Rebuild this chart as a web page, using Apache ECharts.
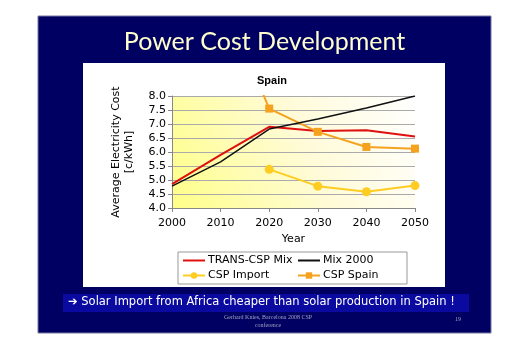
<!DOCTYPE html>
<html><head><meta charset="utf-8">
<script src="https://cdn.jsdelivr.net/npm/echarts@6/dist/echarts.min.js"></script>
<style>html,body{margin:0;padding:0;background:#fff}#c{width:529px;height:350px}</style>
</head><body><div id="c"></div>
<script>
const years = ['2000', '2010', '2020', '2030', '2040', '2050'];
const transCspMix = [4.85, 5.9, 6.9, 6.75, 6.78, 6.55];
const mix2000 = [4.78, 5.65, 6.82, 7.18, 7.57, 8.0];
const cspImport = [null, null, 5.38, 4.78, 4.58, 4.8];
const cspSpain = [null, 11.7, 7.55, 6.72, 6.18, 6.12];
const seriesNames = ['TRANS-CSP Mix', 'Mix 2000', 'CSP Import', 'CSP Spain'];

const chart = echarts.init(document.getElementById('c'), null, {renderer: 'canvas'});
const F = 'DejaVu Sans';
const lineIcon = 'path://M0,0H22V2H0Z';
chart.setOption({
  backgroundColor: '#ffffff',
  animation: false,
  title: {
    text: 'Spain', left: 267, top: 70, textAlign: 'center',
    textStyle: {fontFamily: 'Liberation Sans', fontWeight: 'bold', fontSize: 11, color: '#000'}
  },
  graphic: [
    {type: 'rect', z: -20, shape: {x: 38, y: 16, width: 453, height: 317}, style: {fill: '#000062', stroke: '#7777a0', lineWidth: 1}},
    {type: 'rect', z: -19, shape: {x: 83, y: 63, width: 362, height: 224}, style: {fill: '#ffffff'}},
    {type: 'rect', z: -19, shape: {x: 63, y: 294, width: 406, height: 18}, style: {fill: '#0a0aa0'}},
    {type: 'rect', z: -18, shape: {x: 178, y: 252, width: 229, height: 32}, style: {fill: '#ffffff', stroke: '#999999', lineWidth: 1}},
    {type: 'text', z: 5, left: 'center', top: 29, style: {text: 'Power Cost Development', fill: '#ffffcc', font: '25px Lato'}},
    {type: 'text', z: 5, left: 68, top: 296, style: {text: '\u2794 Solar Import from Africa cheaper than solar production in Spain !', fill: '#ffffff', font: '11.5px "DejaVu Sans"'}},
    {type: 'text', z: 5, x: 268, y: 313, style: {text: 'Gerhard Knies, Barcelona 2008 CSP\nconference', fill: '#a0a0c0', font: '6px "Liberation Serif"', align: 'center', lineHeight: 8}},
    {type: 'text', z: 5, x: 458, y: 316, style: {text: '19', fill: '#a0a0c0', font: '6px "Liberation Serif"', align: 'center'}}
  ],
  legend: [
    {data: [{name: seriesNames[0], icon: lineIcon}, seriesNames[2]], orient: 'vertical', left: 182, top: 255, itemGap: 4, itemWidth: 22, itemHeight: 8,
     textStyle: {fontFamily: F, fontSize: 11, color: '#000', padding: [0, 0, 0, -2]}, padding: 0},
    {data: [{name: seriesNames[1], icon: lineIcon}, seriesNames[3]], orient: 'vertical', left: 297, top: 255, itemGap: 4, itemWidth: 22, itemHeight: 8,
     textStyle: {fontFamily: F, fontSize: 11, color: '#000', padding: [0, 0, 0, -2]}, padding: 0}
  ],
  grid: {
    left: 172, right: 114, top: 96, bottom: 142, show: true, borderWidth: 0,
    backgroundColor: new echarts.graphic.LinearGradient(0, 1, 1, 0, [
      {offset: 0, color: '#ffff88'}, {offset: 0.55, color: '#fffbd8'}, {offset: 1, color: '#ffffff'}
    ])
  },
  xAxis: {
    type: 'category', data: years, boundaryGap: false,
    name: 'Year', nameLocation: 'middle', nameGap: 26,
    nameTextStyle: {fontFamily: F, fontSize: 11, color: '#000'},
    axisLine: {lineStyle: {color: '#888', width: 1}},
    axisTick: {show: true, length: 4, lineStyle: {color: '#888'}},
    axisLabel: {fontFamily: F, fontSize: 11, color: '#000', margin: 10},
    splitLine: {show: false}
  },
  yAxis: {
    type: 'value', min: 4, max: 8, interval: 0.5,
    name: 'Average Electricity Cost\n[c/kWh]', nameLocation: 'middle', nameRotate: 90, nameGap: 36,
    nameTextStyle: {fontFamily: F, fontSize: 11, color: '#000', lineHeight: 13, align: 'center'},
    axisLine: {show: true, lineStyle: {color: '#888', width: 1}},
    axisTick: {show: true, length: 4, lineStyle: {color: '#888'}},
    axisLabel: {fontFamily: F, fontSize: 11, color: '#000', margin: 6, formatter: v => v.toFixed(1)},
    splitLine: {show: true, lineStyle: {color: '#aaa', width: 1}}
  },
  series: [
    {name: seriesNames[0], type: 'line', data: transCspMix, symbol: 'none', clip: true,
     lineStyle: {color: '#e01010', width: 2}, itemStyle: {color: '#e01010'}, z: 3},
    {name: seriesNames[1], type: 'line', data: mix2000, symbol: 'none', clip: true,
     lineStyle: {color: '#111', width: 1.5}, itemStyle: {color: '#111'}, z: 4},
    {name: seriesNames[2], type: 'line', data: cspImport, symbol: 'circle', symbolSize: 9, clip: true,
     lineStyle: {color: '#ffcc22', width: 2}, itemStyle: {color: '#ffcc22'}, z: 3},
    {name: seriesNames[3], type: 'line', data: cspSpain, symbol: 'rect', symbolSize: 8, clip: true,
     lineStyle: {color: '#f5a21e', width: 2}, itemStyle: {color: '#f5a21e'}, z: 3}
  ]
});
</script></body></html>
